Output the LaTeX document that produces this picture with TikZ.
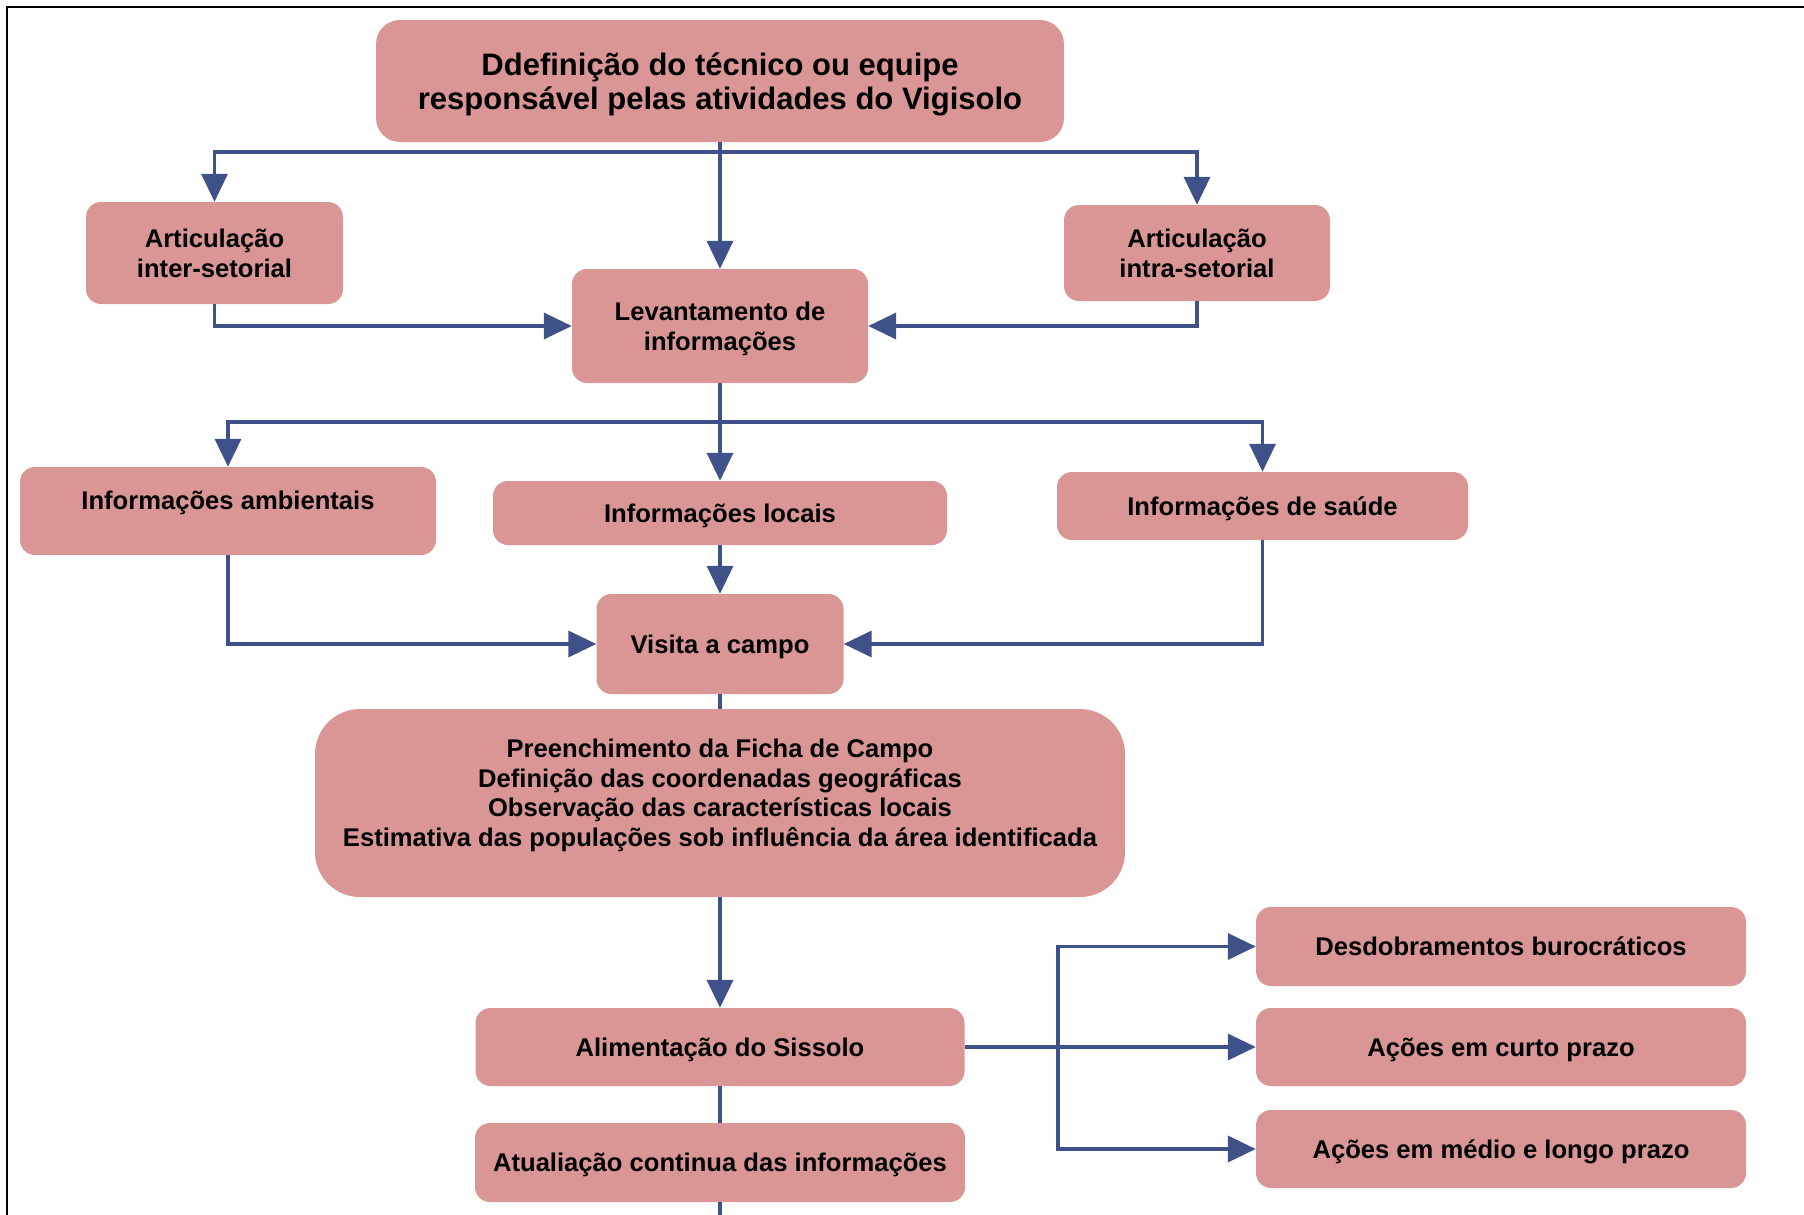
\documentclass[tikz,border=0pt]{standalone}
\usepackage{fontspec}
\setmainfont{Liberation Sans}
\usetikzlibrary{arrows.meta}
\definecolor{boxc}{HTML}{D99694}
\definecolor{linec}{HTML}{3F5189}
\begin{document}
\begin{tikzpicture}[x=1pt,y=-1pt,
 box/.style={rectangle,rounded corners=15pt,fill=boxc,inner sep=0pt,align=center,font=\fontsize{25.6}{29.5}\selectfont\bfseries},
 bx/.style={box,text depth=0pt},
 arr/.style={draw=linec,line width=3.5pt,-{Triangle[length=28pt,width=26pt]}},
 ln/.style={draw=linec,line width=3.5pt}]
\useasboundingbox (0,0) rectangle (1804,1215);
\draw[line width=2.5pt] (7,1215) -- (7,7) -- (1804,7);

\node[bx,minimum width=688pt,minimum height=122pt,rounded corners=24pt,font=\fontsize{31}{34.5}\selectfont\bfseries] (top) at (720,81) {Ddefinição do técnico ou equipe\\responsável pelas atividades do Vigisolo};
\node[bx,minimum width=257pt,minimum height=102pt] (inter) at (214.5,253) {Articulação\\inter-setorial};
\node[bx,minimum width=266pt,minimum height=96pt] (intra) at (1197,253) {Articulação\\intra-setorial};
\node[bx,minimum width=296pt,minimum height=114pt] (lev) at (720,326) {Levantamento de\\informações};
\node[bx,minimum width=416pt,minimum height=88pt] (amb) at (228,511) {\raisebox{11pt}[\height][\depth]{Informações ambientais}};
\node[bx,minimum width=454pt,minimum height=64pt] (loc) at (720,513) {Informações locais};
\node[bx,minimum width=411pt,minimum height=68pt] (sau) at (1262.5,506) {Informações de saúde};
\node[bx,minimum width=247pt,minimum height=100pt] (vis) at (720,644) {Visita a campo};
\node[box,minimum width=810pt,minimum height=188pt,rounded corners=45pt] (fic) at (720,803) {\raisebox{7pt}[\height][\depth]{\begin{tabular}{@{}c@{}}Preenchimento da Ficha de Campo\\Definição das coordenadas geográficas\\Observação das características locais\\Estimativa das populações sob influência da área identificada\end{tabular}}};
\node[bx,minimum width=489pt,minimum height=78pt] (ali) at (720,1047) {Alimentação do Sissolo};
\node[bx,minimum width=490pt,minimum height=79pt] (atu) at (720,1162.5) {Atualiação continua das informações};
\node[bx,minimum width=490pt,minimum height=79pt] (des) at (1501,946.5) {Desdobramentos burocráticos};
\node[bx,minimum width=490pt,minimum height=78pt] (cur) at (1501,1047) {Ações em curto prazo};
\node[bx,minimum width=490pt,minimum height=78pt] (med) at (1501,1149) {Ações em médio e longo prazo};

\coordinate (b1) at (720,152);
\draw[arr] (top.south) -- (lev.north);
\draw[arr] (b1) -| (inter.north);
\draw[arr] (b1) -| (intra.north);
\draw[arr] (inter.south) |- (lev.west);
\draw[arr] (intra.south) |- (lev.east);
\coordinate (b2) at (720,422);
\draw[arr] (lev.south) -- (loc.north);
\draw[arr] (b2) -| (amb.north);
\draw[arr] (b2) -| (sau.north);
\draw[arr] (loc.south) -- (vis.north);
\draw[arr] (amb.south) |- (vis.west);
\draw[arr] (sau.south) |- (vis.east);
\draw[ln] (vis.south) -- (fic.north);
\draw[arr] (fic.south) -- (ali.north);
\draw[arr] (ali.east) -- (cur.west);
\coordinate (b3) at (1058,1047);
\draw[arr] (b3) |- (des.west);
\draw[arr] (b3) |- (med.west);
\draw[ln] (ali.south) -- (atu.north);
\coordinate (e) at (720,1215);
\draw[ln] (atu.south) -- (e);
\end{tikzpicture}
\end{document}
